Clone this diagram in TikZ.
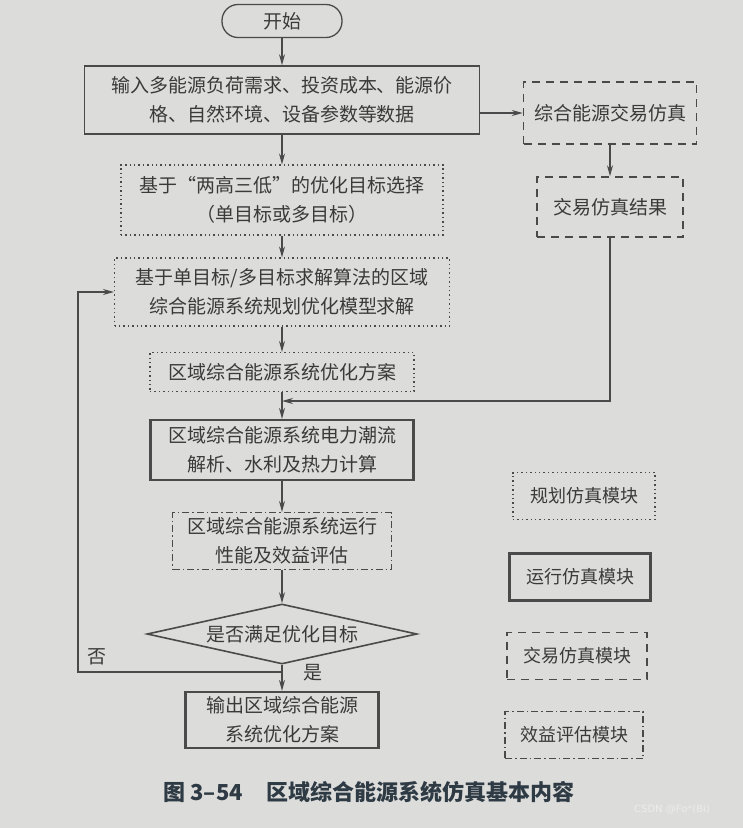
\documentclass[tikz,border=0pt]{standalone}
\usepackage{fontspec}
\setmainfont{Noto Sans CJK SC}
\newfontfamily\markfont{DejaVu Sans}
\usetikzlibrary{arrows.meta,shapes.geometric}
\definecolor{paper}{HTML}{DCDCDA}
\definecolor{ink}{HTML}{4A4A4A}
\definecolor{txt}{HTML}{3A3A3A}
\definecolor{capc}{HTML}{2E3A44}

\begin{document}
\begin{tikzpicture}[x=1pt,y=-1pt,
  box/.style={draw=ink,text=txt,align=center,inner sep=0pt,font=\fontsize{19}{29}\selectfont},
  plan/.style={box,line width=1.1pt,dash pattern=on 1.4pt off 3pt},
  run/.style={box,line width=2.2pt},
  trade/.style={box,line width=1.5pt,dash pattern=on 8pt off 6pt},
  eval/.style={box,line width=1.1pt,dash pattern=on 7pt off 3pt on 1.5pt off 3pt},
  legend/.style={minimum height=47pt,font=\fontsize{18}{22}\selectfont},
  flow/.style={draw=ink,line width=1.2pt,-{Stealth[length=11pt,width=6pt]}},
  lab/.style={text=txt,font=\fontsize{19}{23}\selectfont}]
  \fill[paper] (0,0) rectangle (743,828);
  \useasboundingbox (0,0) rectangle (743,828);

  % main chain
  \node[box,line width=1.3pt,rounded corners=16pt,minimum width=120pt,minimum height=33pt] (start) at (282,21) {开始};
  \node[box,line width=1.6pt,minimum width=395pt,minimum height=68pt] (input) at (282,100) {输入多能源负荷需求、投资成本、能源价\\格、自然环境、设备参数等数据};
  \node[plan,minimum width=322pt,minimum height=70pt] (goal) at (282,200) {基于“两高三低”的优化目标选择\\（单目标或多目标）};
  \node[plan,minimum width=335pt,minimum height=68pt] (solve) at (282,292) {基于单目标/多目标求解算法的区域\\综合能源系统规划优化模型求解};
  \node[plan,minimum width=264pt,minimum height=39pt] (scheme) at (282,372) {区域综合能源系统优化方案};
  \node[run,minimum width=263pt,minimum height=60pt] (calc) at (282,450) {区域综合能源系统电力潮流\\解析、水利及热力计算};
  \node[eval,minimum width=219pt,minimum height=57pt] (perf) at (282,541) {区域综合能源系统运行\\性能及效益评估};
  \node[box,diamond,aspect=4.5,line width=1.6pt,minimum width=270pt,minimum height=60pt] (check) at (282,634) {是否满足优化目标};
  \node[run,minimum width=193pt,minimum height=56pt] (output) at (282,720) {输出区域综合能源\\系统优化方案};

  % trading branch
  \node[trade,minimum width=173pt,minimum height=62pt] (market) at (610,113) {综合能源交易仿真};
  \node[trade,minimum width=146pt,minimum height=60pt] (result) at (610,207) {交易仿真结果};

  % legend
  \node[plan,legend,minimum width=142pt] (legplan) at (584,496) {规划仿真模块};
  \node[run,legend,minimum width=141pt] (legrun) at (580,577) {运行仿真模块};
  \node[trade,legend,minimum width=140pt] (legtrade) at (577,656) {交易仿真模块};
  \node[eval,legend,minimum width=138pt] (legeval) at (574,735) {效益评估模块};

  \draw[flow] (start) -- (input);
  \draw[flow] (input) -- (goal);
  \draw[flow] (goal) -- (solve);
  \draw[flow] (solve) -- (scheme);
  \draw[flow] (scheme) -- (calc);
  \draw[flow] (calc) -- (perf);
  \draw[flow] (perf) -- (check);
  \draw[flow] (check) -- (output);
  \draw[flow] (input.east |- market.west) -- (market.west);
  \draw[flow] (market) -- (result);
  \coordinate (merge) at (282,401);
  \draw[flow] (result.south) |- (merge);
  \coordinate (back) at (282,672);
  \coordinate (backleft) at (78,672);
  \draw[flow] (back) -- (backleft) |- (solve.west);
  \node[lab] (no) at (97,657) {否};
  \node[lab] (yes) at (313,673) {是};

  \node[anchor=west,text=capc,font=\fontsize{22}{26}\selectfont\bfseries] (caption) at (160,792) {图 3–54\hspace{24pt}区域综合能源系统仿真基本内容};
  \node[text=white!85!gray,font=\markfont\fontsize{10}{12}\selectfont] (mark) at (672,810) {CSDN @Fo*(Bi)};
\end{tikzpicture}
\end{document}
